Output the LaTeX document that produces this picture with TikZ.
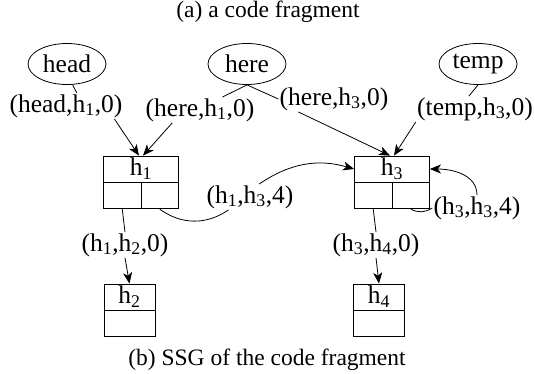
\documentclass[tikz,border=0pt]{standalone}
\usepackage{fontspec}
\setmainfont{Liberation Serif}
\usetikzlibrary{arrows.meta,shapes.geometric,positioning}

\begin{document}
\begin{tikzpicture}[x=1pt,y=-1pt,line width=0.8pt,>={Stealth[length=11pt,width=9pt,inset=3pt]},
		var node/.style={ellipse,draw,minimum width=78pt,minimum height=41pt,inner sep=0pt,font=\fontsize{25.5}{29}\selectfont},
		tuple node/.style={inner sep=1pt,font=\fontsize{25.5}{29}\selectfont},
		top cell/.style={rectangle,draw,minimum width=75pt,minimum height=26pt,inner sep=0pt,font=\fontsize{25.5}{29}\selectfont},
		half cell/.style={rectangle,draw,minimum width=37.5pt,minimum height=26pt,inner sep=0pt},
		small cell/.style={rectangle,draw,minimum width=51pt,minimum height=26pt,inner sep=0pt,font=\fontsize{25.5}{29}\selectfont},
		caption node/.style={font=\fontsize{23.5}{27}\selectfont}]
	\useasboundingbox (0,0) rectangle (535,374);
	\node[caption node] (capa) at (268,12) {(a) a code fragment};
	\node[var node] (head) at (67,64) {head};
	\node[var node] (here) at (247,64) {here};
	\node[var node] (temp) at (478,64) {temp};
	\node[tuple node] (t1) at (66,106) {(head,h\textsubscript{1},0)};
	\node[tuple node] (t2) at (200,110) {(here,h\textsubscript{1},0)};
	\node[tuple node] (t3) at (334,99) {(here,h\textsubscript{3},0)};
	\node[tuple node] (t4) at (475,109) {(temp,h\textsubscript{3},0)};
	\node[top cell] (h1) at (141,169) {h\textsubscript{1}};
	\node[half cell,anchor=north west] (h1l) at (h1.south west) {};
	\node[half cell,anchor=north east] (h1r) at (h1.south east) {};
	\node[top cell] (h3) at (392,169) {h\textsubscript{3}};
	\node[half cell,anchor=north west] (h3l) at (h3.south west) {};
	\node[half cell,anchor=north east] (h3r) at (h3.south east) {};
	\node[tuple node] (t5) at (250,197) {(h\textsubscript{1},h\textsubscript{3},4)};
	\node[tuple node] (t6) at (477,208) {(h\textsubscript{3},h\textsubscript{3},4)};
	\node[tuple node] (t7) at (125,245) {(h\textsubscript{1},h\textsubscript{2},0)};
	\node[tuple node] (t8) at (376,245) {(h\textsubscript{3},h\textsubscript{4},0)};
	\node[small cell] (h2) at (129.5,297) {h\textsubscript{2}};
	\node[small cell,below=0pt of h2] (h2b) {};
	\node[small cell] (h4) at (379,297) {h\textsubscript{4}};
	\node[small cell,below=0pt of h4] (h4b) {};
	\node[caption node] (capb) at (267,360) {(b) SSG of the code fragment};
	% variables to their tuples
	\path[draw]
		(head.285) -- (t1.50)
		(here.south) -- (t2.30)
		(here.south) -- (t3.west)
		(temp.south) -- (t4.115);
	\path[->]
		(t1.-15) edge ([xshift=-2pt]h1.north)
		(t2.205) edge ([xshift=2pt]h1.north)
		(t3.200) edge ([xshift=-2pt]h3.north)
		(t4.south west) edge ([xshift=2pt]h3.north);
	% field edges
	\path[draw]
		(h1r.south) to[bend right=35] (t5.211)
		(h3r.south) to[bend right=30] (t6.west)
		(h1l.south) -- (t7.north)
		(h3l.south) -- (t8.north);
	\path[->]
		(t5.55) edge[bend left=25] (h3.west)
		(t6.north) edge[out=90,in=0] (h3.east)
		(t7.south) edge (h2.north)
		(t8.south) edge (h4.north);
\end{tikzpicture}
\end{document}
